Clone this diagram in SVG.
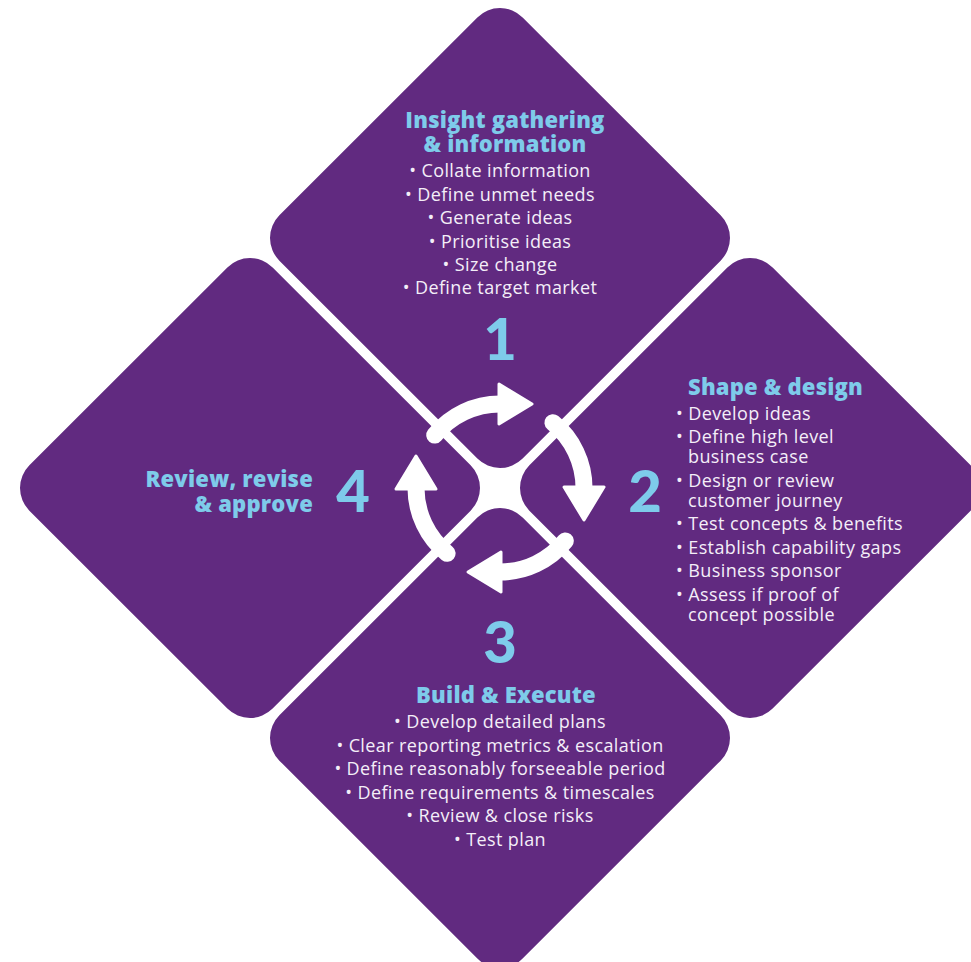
<svg xmlns="http://www.w3.org/2000/svg" width="971" height="962" viewBox="0 0 971 962">
<style>
.dia{fill:#612a80}
.ttl{font-family:"Open Sans",Lato,"Liberation Sans",sans-serif;font-weight:800;font-size:22px;letter-spacing:0.2px;fill:#7ecbea}
.num{font-family:Lato,"Open Sans","Liberation Sans",sans-serif;font-weight:900;font-size:58px;fill:#7ecbea}
.txt{font-family:"Open Sans",Lato,"Liberation Sans",sans-serif;font-size:18px;letter-spacing:0.4px;fill:#f4eef8}
.arc{fill:none;stroke:#fff;stroke-width:17;stroke-linecap:round}
.head{fill:#fff;stroke:#fff;stroke-width:3;stroke-linejoin:round}
</style>
<rect width="971" height="962" fill="#fff"/>
<g id="node-1">
<rect class="dia" x="-172" y="-172" width="344" height="344" rx="32" transform="translate(500,238) rotate(45)"/>
<text class="ttl" text-anchor="middle"><tspan x="505" y="128">Insight gathering</tspan><tspan x="505" y="152">&amp; information</tspan></text>
<text class="txt" text-anchor="middle"><tspan x="500" y="177">• Collate information</tspan><tspan x="500" y="200.5">• Define unmet needs</tspan><tspan x="500" y="224">• Generate ideas</tspan><tspan x="500" y="247.5">• Prioritise ideas</tspan><tspan x="500" y="271">• Size change</tspan><tspan x="500" y="294">• Define target market</tspan></text>
<text class="num" text-anchor="middle" x="500" y="360">1</text>
</g>
<g id="node-2">
<rect class="dia" x="-172" y="-172" width="344" height="344" rx="32" transform="translate(750,488) rotate(45)"/>
<text class="ttl" x="688" y="395">Shape &amp; design</text>
<text class="txt"><tspan x="676" y="420">• Develop ideas</tspan><tspan x="676" y="443">• Define high level</tspan><tspan x="688" y="463">business case</tspan><tspan x="676" y="487">• Design or review</tspan><tspan x="688" y="507">customer journey</tspan><tspan x="676" y="530">• Test concepts &amp; benefits</tspan><tspan x="676" y="554">• Establish capability gaps</tspan><tspan x="676" y="577">• Business sponsor</tspan><tspan x="676" y="601">• Assess if proof of</tspan><tspan x="688" y="621">concept possible</tspan></text>
<text class="num" text-anchor="middle" x="645" y="512">2</text>
</g>
<g id="node-3">
<rect class="dia" x="-172" y="-172" width="344" height="344" rx="32" transform="translate(500,738) rotate(45)"/>
<text class="num" text-anchor="middle" x="500" y="663">3</text>
<text class="ttl" text-anchor="middle" x="506" y="703">Build &amp; Execute</text>
<text class="txt" text-anchor="middle"><tspan x="500" y="728">• Develop detailed plans</tspan><tspan x="500" y="752">• Clear reporting metrics &amp; escalation</tspan><tspan x="500" y="775">• Define reasonably forseeable period</tspan><tspan x="500" y="799">• Define requirements &amp; timescales</tspan><tspan x="500" y="822">• Review &amp; close risks</tspan><tspan x="500" y="846">• Test plan</tspan></text>
</g>
<g id="node-4">
<rect class="dia" x="-172" y="-172" width="344" height="344" rx="32" transform="translate(250,488) rotate(45)"/>
<text class="ttl" text-anchor="end"><tspan x="313" y="487">Review, revise</tspan><tspan x="313" y="512">&amp; approve</tspan></text>
<text class="num" text-anchor="middle" x="353" y="512">4</text>
</g>
<g id="connectors">
<path class="arc" d="M434.7,435.1 A84,84 0 0 1 500,404"/>
<polygon class="head" points="499,384 532,404 499,424"/>
<path class="arc" d="M552.9,422.7 A84,84 0 0 1 584,488"/>
<polygon class="head" points="564,487 584,520 604,487"/>
<path class="arc" d="M565.3,540.9 A84,84 0 0 1 500,572"/>
<polygon class="head" points="501,552 468,572 501,592"/>
<path class="arc" d="M447.1,553.3 A84,84 0 0 1 416,488"/>
<polygon class="head" points="396,489 416,456 436,489"/>
</g>
</svg>
